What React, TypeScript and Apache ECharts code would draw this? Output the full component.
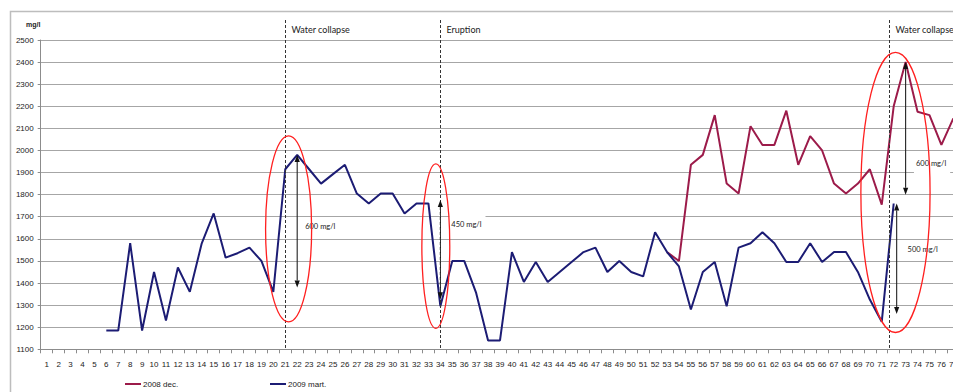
import React, { useEffect, useRef } from "react";
import * as echarts from "echarts";

// Sampling day numbers along the horizontal axis
const days: string[] = Array.from({ length: 77 }, (_, i) => String(i + 1));

// Y axis range (mg/l)
const yMin = 1100;
const yMax = 2500;
const yStep = 100;

// 2008 dec. measurements (mg/l), days 53..77
const dec2008: (number | null)[] = [
  null, null, null, null, null, null, null, null, null, null,
  null, null, null, null, null, null, null, null, null, null,
  null, null, null, null, null, null, null, null, null, null,
  null, null, null, null, null, null, null, null, null, null,
  null, null, null, null, null, null, null, null, null, null,
  null, null, 1540, 1500, 1935, 1980, 2160, 1850, 1805, 2110,
  2025, 2025, 2180, 1935, 2065, 2000, 1850, 1805, 1850, 1915,
  1755, 2200, 2400, 2175, 2160, 2025, 2145,
];

// 2009 mart. measurements (mg/l), days 6..72
const mar2009: (number | null)[] = [
  null, null, null, null, null, 1185, 1185, 1580, 1185, 1450,
  1230, 1470, 1360, 1580, 1715, 1515, 1535, 1560, 1500, 1360,
  1915, 1980, 1915, 1850, 1893, 1935, 1805, 1760, 1805, 1805,
  1715, 1760, 1760, 1295, 1500, 1500, 1355, 1140, 1140, 1540,
  1405, 1495, 1405, 1450, 1495, 1540, 1560, 1450, 1500, 1450,
  1430, 1630, 1540, 1475, 1280, 1450, 1495, 1295, 1560, 1580,
  1630, 1580, 1495, 1495, 1580, 1495, 1540, 1540, 1450, 1325,
  1225, 1760, null, null, null, null, null,
];

// Events marked with a dashed vertical line (day position, caption)
const eventDays = [21, 34, 71.6];
const eventNames = ["Water collapse", "Eruption", "Water collapse"];

// Red ellipses: centre day, centre value, half-width in days, half-height in mg/l
const ringDay = [21.28, 33.62, 72.15];
const ringValue = [1645, 1567, 1810];
const ringHalfDays = [1.93, 1.17, 2.9];
const ringHalfValue = [421, 372, 634];

// Change arrows: day, upper value, span (mg/l), dashed shaft
const arrowDay = [22, 34, 73, 72.25];
const arrowTop = [1980, 1776, 2400, 1760];
const arrowSpan = [600, 450, 600, 500];
const arrowDashed = [false, true, false, false];
// Arrow captions: left day, value
const captionDay = [22.5, 34.75, 73.7, 73.0];
const captionValue = [1654, 1666, 1943, 1550];

const RED = "#9c1b4a";
const NAVY = "#1c1c74";
const AXIS_FONT = "Liberation Sans, Arial, sans-serif";
const NOTE_FONT = "Lato, Open Sans, sans-serif";

export default function App() {
  const ref = useRef<HTMLDivElement | null>(null);

  useEffect(() => {
    if (!ref.current) return;
    const chart = echarts.init(ref.current, null, { renderer: "svg" });

    const option: any = {
      animation: false,
      backgroundColor: "#ffffff",
      grid: { left: 40.7, top: 40, right: 20.7, bottom: 42.7, containLabel: false },
      legend: [
        {
          data: [{ name: "2008 dec." }],
          left: 125,
          top: 380,
          padding: 0,
          icon: "rect",
          itemWidth: 16,
          itemHeight: 2,
          itemGap: 2,
          textStyle: { fontFamily: AXIS_FONT, fontSize: 8, color: "#222", padding: [0, 0, 0, -3] },
        },
        {
          data: [{ name: "2009 mart." }],
          left: 270,
          top: 380,
          padding: 0,
          icon: "rect",
          itemWidth: 16,
          itemHeight: 2,
          textStyle: { fontFamily: AXIS_FONT, fontSize: 8, color: "#222", padding: [0, 0, 0, -3] },
        },
      ],
      xAxis: {
        type: "category",
        data: days,
        boundaryGap: true,
        axisLine: { show: true, lineStyle: { color: "#8c8c8c", width: 1 } },
        axisTick: { show: true, length: 4, lineStyle: { color: "#8c8c8c" } },
        axisLabel: {
          interval: 0,
          margin: 11,
          fontFamily: AXIS_FONT,
          fontSize: 8,
          color: "#222",
        },
        splitLine: { show: false },
      },
      yAxis: {
        type: "value",
        min: yMin,
        max: yMax,
        interval: yStep,
        axisLine: { show: true, lineStyle: { color: "#8c8c8c", width: 1 } },
        axisTick: { show: true, length: 3, lineStyle: { color: "#8c8c8c" } },
        axisLabel: {
          margin: 7,
          fontFamily: AXIS_FONT,
          fontSize: 8,
          color: "#222",
          formatter: (v: number) => String(v),
        },
        splitLine: { show: true, lineStyle: { color: "#a6a6a6", width: 1 } },
      },
      series: [
        {
          name: "2008 dec.",
          type: "line",
          data: dec2008,
          symbol: "none",
          lineStyle: { color: RED, width: 2 },
          itemStyle: { color: RED },
          z: 2,
        },
        {
          name: "2009 mart.",
          type: "line",
          data: mar2009,
          symbol: "none",
          lineStyle: { color: NAVY, width: 2 },
          itemStyle: { color: NAVY },
          z: 3,
        },
      ],
    };
    chart.setOption(option);

    // Pixel helpers derived from the axes
    const p0 = chart.convertToPixel({ gridIndex: 0 }, [0, yMin]) as number[];
    const p1 = chart.convertToPixel({ gridIndex: 0 }, [1, yMin]) as number[];
    const step = p1[0] - p0[0];
    const X = (day: number) => p0[0] + (day - 1) * step;
    const Y = (v: number) => chart.convertToPixel({ yAxisIndex: 0 }, v) as number;

    const elements: any[] = [];

    // chart area frame
    elements.push({
      type: "rect",
      shape: { x: 10.5, y: 11.5, width: 1200, height: 600 },
      style: { fill: "none", stroke: "#bdbdbd", lineWidth: 1.5 },
      silent: true,
      z: 0,
    });

    // unit caption
    elements.push({
      type: "text",
      x: 26,
      y: 24,
      style: {
        text: "mg/l",
        font: `bold 7px ${AXIS_FONT}`,
        fill: "#222",
        verticalAlign: "middle",
      },
      z: 10,
    });

    // event markers
    eventDays.forEach((d, i) => {
      const x = Math.round(X(d)) + 0.5;
      elements.push({
        type: "line",
        shape: { x1: x, y1: 20, x2: x, y2: Y(yMin) },
        style: { stroke: "#333", lineWidth: 1, lineDash: [3, 2] },
        z: 10,
      });
      elements.push({
        type: "text",
        x: x + 6,
        y: 29,
        style: {
          text: eventNames[i],
          font: `9px ${NOTE_FONT}`,
          fill: "#222",
          verticalAlign: "middle",
        },
        z: 10,
      });
    });

    // red ellipses
    ringDay.forEach((d, i) => {
      const cx = X(d);
      const cy = Y(ringValue[i]);
      const rx = ringHalfDays[i] * step;
      const ry = Math.abs(Y(ringValue[i] + ringHalfValue[i]) - cy);
      elements.push({
        type: "ellipse",
        shape: { cx, cy, rx, ry },
        style: { fill: "none", stroke: "#ff1f1f", lineWidth: 1.3 },
        z: 11,
      });
    });

    // double-headed arrows with their captions
    arrowDay.forEach((d, i) => {
      const x = X(d);
      const yTop = Y(arrowTop[i]);
      const yBot = Y(arrowTop[i] - arrowSpan[i]);
      const head = 7;
      const half = 2.6;
      elements.push({
        type: "line",
        shape: { x1: x, y1: yTop + head, x2: x, y2: yBot - head },
        style: {
          stroke: "#222",
          lineWidth: 1.1,
          lineDash: arrowDashed[i] ? [3, 2] : null,
        },
        z: 12,
      });
      elements.push({
        type: "polygon",
        shape: { points: [[x, yTop], [x - half, yTop + head], [x + half, yTop + head]] },
        style: { fill: "#111" },
        z: 12,
      });
      elements.push({
        type: "polygon",
        shape: { points: [[x, yBot], [x - half, yBot - head], [x + half, yBot - head]] },
        style: { fill: "#111" },
        z: 12,
      });
      elements.push({
        type: "text",
        x: X(captionDay[i]),
        y: Y(captionValue[i]),
        style: {
          text: `${arrowSpan[i]} mg/l`,
          font: `7.5px ${NOTE_FONT}`,
          fill: "#222",
          verticalAlign: "middle",
          backgroundColor: "#ffffff",
          padding: [6, 4, 6, 2],
        },
        z: 9,
      });
    });

    chart.setOption({ graphic: { elements } });

    return () => {
      chart.dispose();
    };
  }, []);

  return (
    <div
      style={{
        position: "fixed",
        left: 0,
        top: 0,
        width: 953,
        height: 392,
        overflow: "hidden",
        background: "#fff",
      }}
    >
      <div ref={ref} style={{ width: 980, height: 392 }} />
    </div>
  );
}
